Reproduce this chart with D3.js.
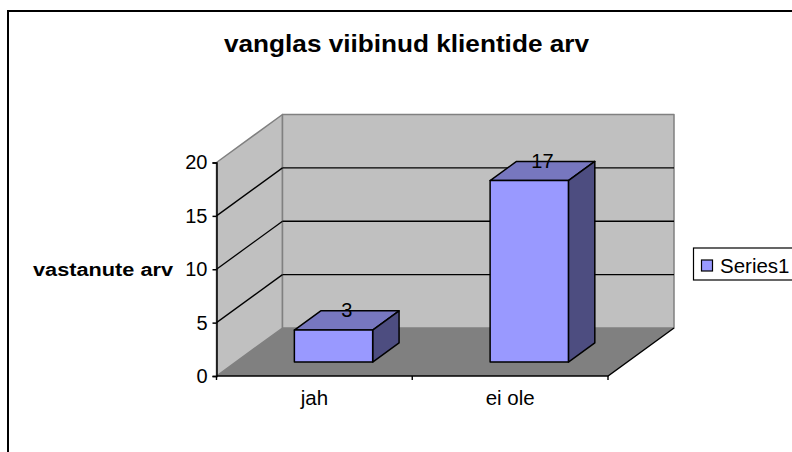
<!DOCTYPE html>
<html>
<head>
<meta charset="utf-8">
<script src="https://cdn.jsdelivr.net/npm/d3@7/dist/d3.min.js"></script>
<style>
  html, body { margin: 0; padding: 0; background: #fff; }
  svg { display: block; }
  text { font-family: "Liberation Sans", Arial, sans-serif; fill: #000; }
</style>
</head>
<body>
<svg id="chart" width="792" height="452"></svg>
<script>
const categories = ["jah", "ei ole"];
const values = [3, 17];
const yTicks = [0, 5, 10, 15, 20];
const seriesName = "Series1";
const titleText = "vanglas viibinud klientide arv";
const yTitle = "vastanute arv";

const svg = d3.select("#chart");

// floor front edge and how far the box recedes
const left = 216.5, right = 608, base = 376, top20 = 162.5;
const depthX = 66, depthY = -48;
const barDepth0 = 0.29, barDepth1 = 0.69;

const x = d3.scaleBand().domain(categories).range([left, right])
  .paddingInner(0.6).paddingOuter(0.3);
const y = d3.scaleLinear().domain([0, 20]).range([base, top20]);

const line = d3.line();
const px = (v, d) => v + depthX * d;
const py = (v, d) => v + depthY * d;
const pt = (xv, val, d) => [px(xv, d), py(y(val), d)];

function poly(points, fill, stroke, width) {
  svg.append("path")
    .attr("d", line(points) + "Z")
    .attr("fill", fill)
    .attr("stroke", stroke || "none")
    .attr("stroke-width", width || 0)
    .attr("stroke-linejoin", "round");
}

// outer chart frame, only left and top show in the crop
svg.append("path")
  .attr("d", "M8,452V11H792")
  .attr("fill", "none")
  .attr("stroke", "#000")
  .attr("stroke-width", 2);

/* walls and floor */
poly([pt(left, 0, 0), pt(left, 20, 0), pt(left, 20, 1), pt(left, 0, 1)], "#c0c0c0", "#808080", 1.5);
poly([pt(left, 0, 1), pt(left, 20, 1), pt(right, 20, 1), pt(right, 0, 1)], "#c0c0c0", "#808080", 1.5);
poly([pt(left, 0, 0), pt(left, 0, 1), pt(right, 0, 1), pt(right, 0, 0)], "#808080");

/* gridlines */
yTicks.filter(t => t > 0 && t < 20).forEach(t => {
  svg.append("path")
    .attr("d", line([pt(left, t, 0), pt(left, t, 1)]))
    .attr("fill", "none")
    .attr("stroke", "#000")
    .attr("stroke-width", 1.3);
  svg.append("path")
    .attr("d", line([pt(left, t, 1), pt(right, t, 1)]))
    .attr("fill", "none")
    .attr("stroke", "#000")
    .attr("stroke-width", 1.3);
});

// floor outer edges
svg.append("path")
  .attr("d", line([pt(left, 0, 0), pt(right, 0, 0), pt(right, 0, 1)]))
  .attr("fill", "none")
  .attr("stroke", "#000")
  .attr("stroke-width", 1.4);

/* bars */
categories.forEach((c, i) => {
  const x0 = x(c), x1 = x(c) + x.bandwidth(), v = values[i];
  poly([pt(x0, v, barDepth0), pt(x0, v, barDepth1), pt(x1, v, barDepth1), pt(x1, v, barDepth0)], "#7777bf", "#000", 1.5);
  poly([pt(x1, 0, barDepth0), pt(x1, v, barDepth0), pt(x1, v, barDepth1), pt(x1, 0, barDepth1)], "#4d4d80", "#000", 1.5);
  poly([pt(x0, 0, barDepth0), pt(x0, v, barDepth0), pt(x1, v, barDepth0), pt(x1, 0, barDepth0)], "#9999ff", "#000", 1.5);
});

// value labels sit over the bars, halfway back on the top face
categories.forEach((c, i) => {
  const mid = (barDepth0 + barDepth1) / 2;
  svg.append("text")
    .attr("x", px(x(c) + x.bandwidth() / 2, mid))
    .attr("y", py(y(values[i]), mid) - 3)
    .attr("text-anchor", "middle")
    .attr("font-size", 20)
    .text(values[i]);
});

/* axes */
const yAxis = d3.axisLeft(y).tickValues(yTicks).tickSize(4).tickPadding(5);
const yG = svg.append("g").attr("transform", `translate(${left},0)`).call(yAxis);
yG.selectAll("text").attr("font-size", 20).attr("fill", "#000").style("font-family", "Liberation Sans");
yG.selectAll("path,line").attr("stroke", "#000").attr("stroke-width", 1.5);

const xAxis = d3.axisBottom(x).tickSize(0);
const xG = svg.append("g").attr("transform", `translate(0,${base})`).call(xAxis);
xG.select(".domain").remove();
xG.selectAll("text")
  .attr("dy", null)
  .attr("y", 29)
  .attr("font-size", 20.5)
  .attr("fill", "#000")
  .style("font-family", "Liberation Sans");

[left, left + x.step(), right].forEach(tx => {
  svg.append("line")
    .attr("x1", tx).attr("x2", tx)
    .attr("y1", base).attr("y2", base + 4)
    .attr("stroke", "#000")
    .attr("stroke-width", 1.4);
});

/* titles */
svg.append("text")
  .attr("x", 224).attr("y", 52)
  .attr("font-size", 24)
  .attr("font-weight", "bold")
  .attr("textLength", 365)
  .attr("lengthAdjust", "spacingAndGlyphs")
  .text(titleText);

svg.append("text")
  .attr("x", 33).attr("y", 276)
  .attr("font-size", 18)
  .attr("font-weight", "bold")
  .attr("textLength", 140)
  .attr("lengthAdjust", "spacingAndGlyphs")
  .text(yTitle);

/* legend */
svg.append("rect")
  .attr("x", 693.5).attr("y", 248).attr("width", 110).attr("height", 32)
  .attr("fill", "#fff").attr("stroke", "#000").attr("stroke-width", 1.2);
svg.append("rect")
  .attr("x", 701.5).attr("y", 260).attr("width", 11).attr("height", 11)
  .attr("fill", "#9999ff").attr("stroke", "#000").attr("stroke-width", 1.2);
svg.append("text")
  .attr("x", 720).attr("y", 272.5)
  .attr("font-size", 20.5)
  .text(seriesName);
</script>
</body>
</html>
